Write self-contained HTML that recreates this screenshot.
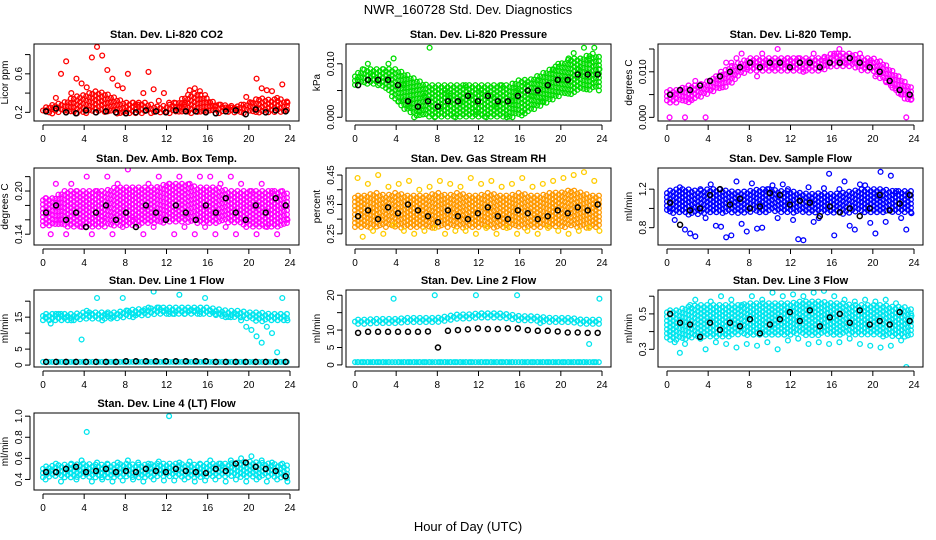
<!DOCTYPE html>
<html><head><meta charset="utf-8">
<style>
body{margin:0;background:#fff;}
svg{display:block;font-family:"Liberation Sans",sans-serif;}
</style></head>
<body>
<svg id="c" width="936" height="540"></svg>
<script>
// ---- data (hours 0..24 band lows/highs, half-hour scatter, hourly black means) ----
const hours = [0,1,2,3,4,5,6,7,8,9,10,11,12,13,14,15,16,17,18,19,20,21,22,23,24];
const co2Lo = [0.18,0.18,0.19,0.19,0.19,0.19,0.19,0.19,0.18,0.19,0.19,0.19,0.19,0.19,0.19,0.19,0.18,0.19,0.19,0.19,0.19,0.19,0.19,0.19,0.18];
const co2Hi = [0.24,0.28,0.3,0.36,0.38,0.42,0.4,0.35,0.3,0.3,0.3,0.26,0.27,0.3,0.38,0.4,0.34,0.28,0.27,0.26,0.3,0.35,0.33,0.34,0.3];
const co2Pts = [0.22,0.25,0.35,0.6,0.73,0.4,0.55,0.5,0.46,0.77,0.88,0.79,0.64,0.55,0.48,0.45,0.6,0.3,0.28,0.4,0.62,0.44,0.32,0.4,0.3,0.3,0.26,0.28,0.43,0.45,0.42,0.38,0.3,0.26,0.28,0.25,0.25,0.24,0.28,0.36,0.3,0.55,0.45,0.43,0.42,0.35,0.49,0.3];
const co2Blk = [0.21,0.24,0.2,0.19,0.22,0.2,0.21,0.2,0.19,0.2,0.22,0.21,0.2,0.22,0.21,0.21,0.2,0.19,0.21,0.22,0.18,0.23,0.2,0.22,0.21];
const presLo = [0.006,0.006,0.006,0.005,0.003,0.001,0.0,0.0,0.0,0.0,0.0,0.0,0.0,0.0,0.0,0.0,0.0,0.001,0.002,0.003,0.004,0.004,0.005,0.005,0.005];
const presHi = [0.008,0.009,0.009,0.009,0.009,0.008,0.007,0.006,0.006,0.006,0.006,0.006,0.006,0.006,0.006,0.006,0.007,0.007,0.008,0.009,0.01,0.011,0.011,0.012,0.011];
const presPts = [0.007,0.009,0.01,0.008,0.006,0.009,0.01,0.011,0.003,0.006,0.002,0.0,0.001,0.004,0.013,0.0,0.002,0.005,0.004,0.0,0.003,0.006,0.004,0.001,0.005,0.0,0.004,0.002,0.006,0.0,0.003,0.005,0.001,0.006,0.004,0.007,0.003,0.006,0.009,0.01,0.007,0.011,0.012,0.009,0.013,0.011,0.013,0.009];
const presBlk = [0.006,0.007,0.007,0.007,0.006,0.003,0.002,0.003,0.002,0.003,0.003,0.004,0.003,0.004,0.003,0.003,0.004,0.005,0.005,0.006,0.007,0.007,0.008,0.008,0.008];
const tempLo = [0.003,0.003,0.003,0.004,0.005,0.006,0.007,0.009,0.01,0.01,0.01,0.01,0.01,0.01,0.01,0.01,0.011,0.011,0.011,0.01,0.01,0.008,0.006,0.004,0.003];
const tempHi = [0.006,0.006,0.007,0.007,0.008,0.009,0.011,0.012,0.013,0.013,0.013,0.013,0.013,0.013,0.013,0.013,0.014,0.014,0.014,0.013,0.013,0.012,0.01,0.008,0.006];
const tempPts = [0.0,0.005,0.006,0.0,0.004,0.008,0.007,0.0,0.006,0.009,0.01,0.012,0.012,0.013,0.014,0.011,0.012,0.009,0.014,0.012,0.011,0.015,0.012,0.013,0.011,0.013,0.01,0.012,0.014,0.011,0.013,0.012,0.014,0.015,0.012,0.013,0.012,0.014,0.011,0.012,0.009,0.01,0.008,0.007,0.006,0.005,0.0,0.004];
const tempBlk = [0.005,0.006,0.006,0.007,0.008,0.009,0.01,0.011,0.012,0.011,0.012,0.012,0.011,0.012,0.012,0.011,0.012,0.012,0.013,0.012,0.011,0.01,0.008,0.006,0.005];
const ambLo = [0.15,0.15,0.15,0.15,0.15,0.15,0.15,0.15,0.15,0.15,0.155,0.155,0.155,0.155,0.155,0.155,0.155,0.155,0.155,0.155,0.15,0.15,0.15,0.15,0.15];
const ambHi = [0.19,0.19,0.2,0.2,0.2,0.2,0.2,0.205,0.205,0.205,0.205,0.205,0.21,0.21,0.21,0.205,0.205,0.205,0.2,0.2,0.2,0.2,0.2,0.2,0.195];
const ambPts = [0.19,0.14,0.21,0.16,0.14,0.21,0.2,0.15,0.22,0.14,0.2,0.16,0.22,0.14,0.21,0.15,0.23,0.16,0.24,0.14,0.21,0.15,0.22,0.16,0.21,0.14,0.22,0.15,0.21,0.14,0.22,0.15,0.22,0.14,0.21,0.15,0.22,0.14,0.21,0.15,0.2,0.14,0.21,0.15,0.2,0.14,0.2,0.16];
const ambBlk = [0.17,0.18,0.16,0.17,0.15,0.17,0.18,0.16,0.17,0.15,0.18,0.17,0.16,0.18,0.17,0.16,0.18,0.17,0.19,0.17,0.16,0.18,0.17,0.19,0.18];
const rhLo = [0.27,0.27,0.27,0.27,0.27,0.27,0.27,0.27,0.27,0.27,0.27,0.27,0.27,0.27,0.27,0.27,0.27,0.27,0.27,0.27,0.27,0.27,0.27,0.27,0.27];
const rhHi = [0.38,0.38,0.39,0.38,0.39,0.38,0.38,0.38,0.39,0.38,0.39,0.38,0.38,0.39,0.38,0.38,0.39,0.38,0.38,0.39,0.39,0.4,0.39,0.38,0.38];
const rhPts = [0.44,0.24,0.42,0.26,0.45,0.25,0.41,0.28,0.42,0.26,0.43,0.25,0.4,0.26,0.41,0.27,0.43,0.25,0.42,0.26,0.41,0.26,0.44,0.25,0.42,0.27,0.43,0.25,0.41,0.27,0.42,0.25,0.44,0.26,0.41,0.25,0.42,0.27,0.43,0.26,0.44,0.25,0.45,0.26,0.46,0.27,0.43,0.26];
const rhBlk = [0.31,0.33,0.3,0.34,0.32,0.35,0.33,0.31,0.29,0.33,0.31,0.3,0.32,0.34,0.31,0.3,0.33,0.32,0.3,0.31,0.33,0.32,0.34,0.33,0.35];
const sfLo = [0.95,0.95,0.93,0.93,0.95,0.95,0.95,0.95,0.95,0.95,0.96,0.96,0.95,0.95,0.95,0.95,0.94,0.94,0.95,0.96,0.95,0.95,0.95,0.95,0.95];
const sfHi = [1.18,1.2,1.2,1.18,1.2,1.2,1.18,1.17,1.18,1.2,1.2,1.18,1.18,1.16,1.15,1.16,1.15,1.16,1.18,1.2,1.2,1.2,1.18,1.18,1.18];
const sfPts = [1.0,0.88,1.22,0.78,0.74,0.71,1.2,0.9,1.25,0.82,0.81,0.7,0.72,1.28,0.84,0.76,1.26,0.79,0.8,1.2,1.24,0.9,1.25,1.2,0.88,0.68,0.67,1.22,0.86,0.9,1.21,1.36,0.72,1.2,1.28,0.82,0.78,1.25,1.24,0.85,0.74,1.38,0.86,1.34,1.18,0.9,0.78,0.95];
const sfBlk = [1.06,0.83,0.98,1.0,1.14,1.2,1.04,1.1,1.0,1.02,1.16,1.14,1.04,1.08,1.06,0.92,1.02,0.96,1.0,0.92,1.0,1.14,0.98,1.05,1.14];
const l1Lo = [14,14,14,14,14,14.5,14.5,14.5,15,15.5,15.5,16,16,16,16,16,16,15.5,15,14.5,14.5,13.5,13.5,14,14];
const l1Hi = [16,16,16,16,16.5,16.5,16.5,16.5,17,17.5,17.5,18,18,18,18,18,18,17.5,17,17,16.5,16.5,16,16,16];
const l1Pts = [15,13,16,16,15,14,15,8,17,16,21,14,16,15,16,21,17,15,16,17,18,23,18,17,16,16,22,16,17,17,16,21,17,16,16,15,15,16,14,12,11,9,7,12,10,4,21,14];
const l1Blk = [1,1,1,1,1,1,1,1,1.2,1.2,1.2,1.2,1.2,1.2,1.2,1.2,1.2,1,1,1,1,1,1,1,1];
const l2Lo = [11.5,11.5,11.5,11.8,11.8,12,12,12,12,12.5,13,13,13.2,13.2,13.2,13,12.5,12.5,12,12,12,12,11.8,11.5,11.5];
const l2Hi = [13,13,13.2,13.2,13.2,13.5,13.5,13.5,13.5,14,14.5,14.5,14.8,14.8,14.8,14.5,14,14,13.8,13.5,13.5,13.5,13,13,13];
const l2Pts = [0.8,0.8,0.8,0.8,0.8,0.8,0.8,19,0.8,0.8,0.8,0.8,0.8,0.8,0.8,20,0.8,0.8,0.8,0.8,0.8,0.8,0.8,20,0.8,0.8,0.8,0.8,0.8,0.8,0.8,20,0.8,0.8,0.8,0.8,0.8,0.8,0.8,0.8,0.8,0.8,0.8,0.8,0.8,6,0.8,19];
const l2Blk = [9.2,9.5,9.5,9.5,9.5,9.5,9.5,9.6,5,9.8,10,10.2,10.5,10.3,10.3,10.5,10.5,10,9.8,9.8,9.6,9.3,9.3,9.2,9.2];
const l3Lo = [0.35,0.35,0.35,0.37,0.37,0.37,0.37,0.38,0.38,0.38,0.38,0.38,0.38,0.38,0.38,0.38,0.38,0.38,0.38,0.38,0.38,0.37,0.37,0.37,0.36];
const l3Hi = [0.52,0.52,0.54,0.55,0.55,0.55,0.55,0.55,0.56,0.56,0.56,0.56,0.56,0.57,0.57,0.57,0.56,0.56,0.55,0.55,0.55,0.55,0.54,0.54,0.52];
const l3Pts = [0.4,0.34,0.28,0.33,0.55,0.58,0.36,0.3,0.57,0.34,0.6,0.33,0.58,0.31,0.55,0.33,0.6,0.32,0.58,0.34,0.62,0.3,0.6,0.35,0.61,0.36,0.6,0.33,0.62,0.34,0.63,0.33,0.6,0.34,0.58,0.36,0.57,0.33,0.58,0.32,0.57,0.31,0.58,0.32,0.56,0.35,0.2,0.49];
const l3Blk = [0.5,0.45,0.44,0.37,0.45,0.41,0.45,0.43,0.47,0.39,0.44,0.47,0.51,0.46,0.52,0.43,0.48,0.5,0.45,0.52,0.44,0.46,0.44,0.51,0.46];
const l4Lo = [0.41,0.42,0.42,0.42,0.42,0.42,0.42,0.42,0.42,0.42,0.42,0.42,0.42,0.42,0.42,0.42,0.42,0.42,0.42,0.42,0.42,0.42,0.42,0.42,0.41];
const l4Hi = [0.52,0.53,0.54,0.54,0.55,0.54,0.54,0.54,0.55,0.54,0.54,0.55,0.55,0.55,0.54,0.54,0.55,0.55,0.55,0.56,0.57,0.56,0.55,0.54,0.53];
const l4Pts = [0.4,0.48,0.55,0.38,0.5,0.55,0.4,0.58,0.85,0.38,0.56,0.4,0.55,0.38,0.56,0.39,0.58,0.4,0.56,0.38,0.55,0.4,0.57,0.39,1.0,0.39,0.56,0.4,0.57,0.38,0.55,0.39,0.58,0.4,0.55,0.38,0.58,0.4,0.6,0.38,0.62,0.4,0.58,0.38,0.56,0.4,0.55,0.38];
const l4Blk = [0.47,0.47,0.5,0.52,0.47,0.48,0.5,0.47,0.48,0.47,0.5,0.48,0.47,0.5,0.48,0.47,0.46,0.5,0.48,0.55,0.56,0.52,0.5,0.48,0.43];
const xTicks = [0,4,8,12,16,20,24];

const panels = [
 {name:"co2",title:"Stan. Dev. Li-820 CO2",ylab:"Licor ppm",col:0,row:0,ymin:0.11,ymax:0.91,ticks:[0.2,0.4,0.6,0.8],labels:["0.2","","0.6",""],color:"#ff0000",alt:"#ff0000",lo:co2Lo,hi:co2Hi,pts:co2Pts,blk:co2Blk},
 {name:"pressure",title:"Stan. Dev. Li-820 Pressure",ylab:"kPa",col:1,row:0,ymin:-0.0007,ymax:0.0137,ticks:[0,0.005,0.01],labels:["0.000","","0.010"],color:"#00dd00",alt:"#00dd00",lo:presLo,hi:presHi,pts:presPts,blk:presBlk},
 {name:"temp",title:"Stan. Dev. Li-820 Temp.",ylab:"degrees C",col:2,row:0,ymin:-0.0008,ymax:0.0161,ticks:[0,0.005,0.01,0.015],labels:["0.000","","0.010",""],color:"#ff00ff",alt:"#ff00ff",lo:tempLo,hi:tempHi,pts:tempPts,blk:tempBlk},
 {name:"amb-box-temp",title:"Stan. Dev. Amb. Box Temp.",ylab:"degrees C",col:0,row:1,ymin:0.125,ymax:0.232,ticks:[0.14,0.16,0.18,0.2,0.22],labels:["0.14","","","0.20",""],color:"#ff00ff",alt:"#ff00ff",lo:ambLo,hi:ambHi,pts:ambPts,blk:ambBlk},
 {name:"gas-rh",title:"Stan. Dev. Gas Stream RH",ylab:"percent",col:1,row:1,ymin:0.212,ymax:0.474,ticks:[0.25,0.3,0.35,0.4,0.45],labels:["0.25","","0.35","","0.45"],color:"#ff9900",alt:"#ffcc00",lo:rhLo,hi:rhHi,pts:rhPts,blk:rhBlk},
 {name:"sample-flow",title:"Stan. Dev. Sample Flow",ylab:"ml/min",col:2,row:1,ymin:0.62,ymax:1.42,ticks:[0.8,1.0,1.2],labels:["0.8","","1.2"],color:"#0000ff",alt:"#0000ff",lo:sfLo,hi:sfHi,pts:sfPts,blk:sfBlk},
 {name:"line1-flow",title:"Stan. Dev. Line 1 Flow",ylab:"ml/min",col:0,row:2,ymin:-0.6,ymax:23.5,ticks:[0,5,10,15,20],labels:["0","5","","15",""],color:"#00e5ee",alt:"#00e5ee",lo:l1Lo,hi:l1Hi,pts:l1Pts,blk:l1Blk,line:1},
 {name:"line2-flow",title:"Stan. Dev. Line 2 Flow",ylab:"ml/min",col:1,row:2,ymin:-0.6,ymax:21.5,ticks:[0,5,10,15,20],labels:["0","5","10","","20"],color:"#00e5ee",alt:"#00e5ee",lo:l2Lo,hi:l2Hi,pts:l2Pts,blk:l2Blk,line:0.8},
 {name:"line3-flow",title:"Stan. Dev. Line 3 Flow",ylab:"ml/min",col:2,row:2,ymin:0.2,ymax:0.635,ticks:[0.3,0.4,0.5,0.6],labels:["0.3","","0.5",""],color:"#00e5ee",alt:"#00e5ee",lo:l3Lo,hi:l3Hi,pts:l3Pts,blk:l3Blk},
 {name:"line4-flow",title:"Stan. Dev. Line 4 (LT) Flow",ylab:"ml/min",col:0,row:3,ymin:0.3,ymax:1.03,ticks:[0.4,0.6,0.8,1.0],labels:["0.4","0.6","0.8","1.0"],color:"#00e5ee",alt:"#00e5ee",lo:l4Lo,hi:l4Hi,pts:l4Pts,blk:l4Blk}
];

const NS="http://www.w3.org/2000/svg";
const svg=document.getElementById('c');
function mk(tag,attrs,parent){const e=document.createElementNS(NS,tag);for(const k in attrs)e.setAttribute(k,attrs[k]);(parent||svg).appendChild(e);return e;}
const colX=[34,346,658], rowY=[44,168,290,413], W=265, H=77;

const mt=mk('text',{x:468,y:14,'text-anchor':'middle','font-size':13});
mt.textContent="NWR_160728 Std. Dev. Diagnostics";


const xt=mk('text',{x:468,y:531,'text-anchor':'middle','font-size':13});
xt.textContent="Hour of Day (UTC)";



panels.forEach(p=>{
  const x0=colX[p.col], y0=rowY[p.row];
  const g=mk('g',{});
  
  
  const sx=h=>x0+9+(h/24)*(W-18);
  const sy=v=>y0+H-(v-p.ymin)/(p.ymax-p.ymin)*H;
  const clip=mk('clipPath',{id:'cl'+p.name},g);
  mk('rect',{x:x0,y:y0,width:W,height:H},clip);
  const pg=mk('g',{'clip-path':'url(#cl'+p.name+')'},g);
  // band (cloud of open circles)
  let k=0;
  for(let h=0;h<=24;h+=0.3){
    k++;
    const i=Math.min(23,Math.floor(h)), f=h-i;
    const lo=p.lo[i]+(p.lo[i+1]-p.lo[i])*f, hi=p.hi[i]+(p.hi[i+1]-p.hi[i])*f;
    const ya=sy(hi), yb=sy(lo);
    for(let y=ya+(k%2)*2;y<=yb;y+=4.2){
      const c=mk('circle',{cx:sx(h),cy:y,r:2.4,fill:'none',stroke:p.color,'stroke-width':1.3},pg);
      
      
    }
  }
  if(p.line!==undefined){
    for(let h=0;h<=24;h+=0.3){
      const c=mk('circle',{cx:sx(h),cy:sy(p.line),r:2.3,fill:'none',stroke:p.color,'stroke-width':1.3},pg);
      
      
    }
  }
  p.pts.forEach((v,i)=>{
    const c=mk('circle',{cx:sx(0.25+i*0.5),cy:sy(v),r:2.4,fill:'none',stroke:p.alt,'stroke-width':1.3},pg);
    
    
  });
  p.blk.forEach((v,i)=>{
    const c=mk('circle',{cx:sx(i*0.97+0.3),cy:sy(v),r:2.5,fill:'none',stroke:'#000','stroke-width':1.5},pg);
    
    
  });
  const box=mk('rect',{x:x0,y:y0,width:W,height:H,fill:'none',stroke:'#000','stroke-width':1},g);
  
  
  const t=mk('text',{x:x0+W/2,y:y0-6,'text-anchor':'middle','font-size':11,'font-weight':'bold'},g);
  t.textContent=p.title;
  
  
  xTicks.forEach(h=>{
    mk('line',{x1:sx(h),x2:sx(h),y1:y0+H+4,y2:y0+H+9,stroke:'#000'},g);
    const l=mk('text',{x:sx(h),y:y0+H+21,'text-anchor':'middle','font-size':10},g);
    l.textContent=h;
    
    
  });
  mk('line',{x1:sx(0),x2:sx(24),y1:y0+H+4,y2:y0+H+4,stroke:'#000'},g);
  const yt=p.ticks.filter(v=>v>=p.ymin&&v<=p.ymax);
  mk('line',{x1:x0-4,x2:x0-4,y1:sy(yt[0]),y2:sy(yt[yt.length-1]),stroke:'#000'},g);
  p.ticks.forEach((v,i)=>{
    if(v<p.ymin||v>p.ymax)return;
    mk('line',{x1:x0-4,x2:x0-9,y1:sy(v),y2:sy(v),stroke:'#000'},g);
    if(p.labels[i]){
      const l=mk('text',{x:x0-12,y:sy(v),'text-anchor':'middle','font-size':10,transform:`rotate(-90 ${x0-12} ${sy(v)})`},g);
      l.textContent=p.labels[i];
      
      
    }
  });
  const yl=mk('text',{x:x0-26,y:y0+H/2,'text-anchor':'middle','font-size':10,transform:`rotate(-90 ${x0-26} ${y0+H/2})`},g);
  yl.textContent=p.ylab;
  
  
});
</script>
</body></html>
